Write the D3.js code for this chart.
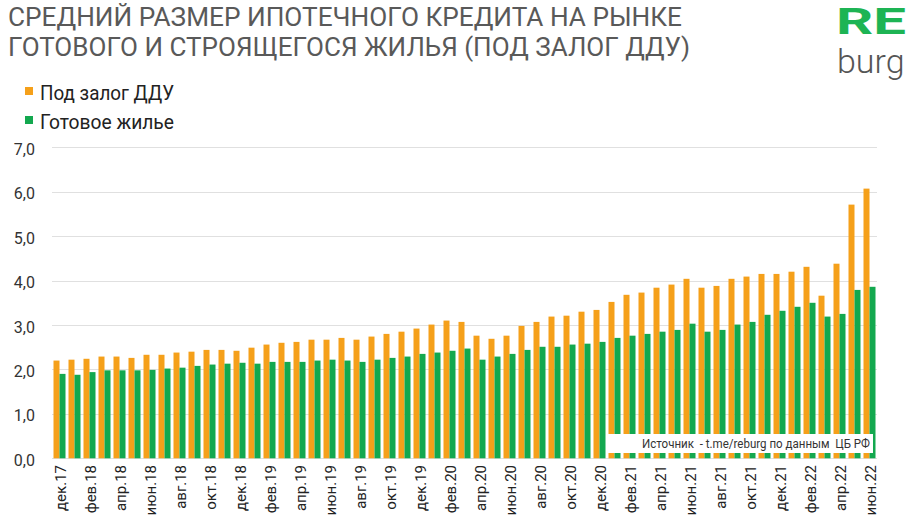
<!DOCTYPE html>
<html>
<head>
<meta charset="utf-8">
<script src="https://cdn.jsdelivr.net/npm/d3@7"></script>
<style>
  body { margin: 0; background: #fff; }
  svg { display: block; font-family: Roboto, "Noto Sans", sans-serif; }
</style>
</head>
<body>
<div id="chart"></div>
<script>
// months, dec 2017 .. jun 2022
const months = [
  "дек.17", "янв.18", "фев.18", "мар.18", "апр.18", "май.18", "июн.18", "июл.18", "авг.18", "сен.18", "окт.18", "ноя.18",
  "дек.18", "янв.19", "фев.19", "мар.19", "апр.19", "май.19", "июн.19", "июл.19", "авг.19", "сен.19", "окт.19", "ноя.19",
  "дек.19", "янв.20", "фев.20", "мар.20", "апр.20", "май.20", "июн.20", "июл.20", "авг.20", "сен.20", "окт.20", "ноя.20",
  "дек.20", "янв.21", "фев.21", "мар.21", "апр.21", "май.21", "июн.21", "июл.21", "авг.21", "сен.21", "окт.21", "ноя.21",
  "дек.21", "янв.22", "фев.22", "мар.22", "апр.22", "май.22", "июн.22"
];

// Под залог ДДУ, млн руб.
const dduValues = [
  2.20, 2.22, 2.24, 2.29, 2.29, 2.26, 2.33, 2.33, 2.38, 2.40, 2.44, 2.44,
  2.42, 2.49, 2.56, 2.60, 2.62, 2.67, 2.67, 2.71, 2.67, 2.74, 2.80, 2.85,
  2.92, 3.01, 3.10, 3.07, 2.76, 2.69, 2.76, 2.98, 3.07, 3.19, 3.21, 3.30,
  3.34, 3.52, 3.68, 3.73, 3.84, 3.91, 4.04, 3.84, 3.88, 4.04, 4.09, 4.15,
  4.15, 4.20, 4.31, 3.66, 4.38, 5.71, 6.07
];

// Готовое жилье
const readyValues = [
  1.90, 1.88, 1.94, 1.98, 1.98, 1.98, 1.99, 2.02, 2.04, 2.08, 2.11, 2.13,
  2.15, 2.13, 2.17, 2.17, 2.17, 2.20, 2.22, 2.20, 2.17, 2.22, 2.26, 2.29,
  2.35, 2.38, 2.42, 2.47, 2.22, 2.29, 2.35, 2.44, 2.51, 2.51, 2.56, 2.58,
  2.62, 2.71, 2.76, 2.80, 2.85, 2.89, 3.03, 2.85, 2.89, 3.01, 3.07, 3.23,
  3.32, 3.41, 3.50, 3.19, 3.25, 3.79, 3.86
];

const seriesNames = ["Под залог ДДУ", "Готовое жилье"];
const yTicks = [0, 1, 2, 3, 4, 5, 6, 7];

const width = 917;
const height = 516;
const orange = "#f5a01a";
const green = "#13a84f";

const rows = months.map((m, i) => ({ month: m, ddu: dduValues[i], ready: readyValues[i] }));

const svg = d3.select("#chart").append("svg")
    .attr("width", width)
    .attr("height", height);

const x = d3.scaleBand()
    .domain(months)
    .range([52, 877])
    .paddingInner(0.2)
    .paddingOuter(0.1);

const xSub = d3.scaleBand()
    .domain(["ddu", "ready"])
    .range([0, x.bandwidth()]);

const y = d3.scaleLinear()
    .domain([0, 7])
    .range([458.3, 147.3]);

const ru = d3.formatLocale({ decimal: ",", thousands: " ", grouping: [3], currency: ["", ""] });
const fmt = ru.format(".1f");

// gridlines
svg.append("g")
  .selectAll("line")
  .data(yTicks)
  .join("line")
    .attr("x1", 52)
    .attr("x2", 877)
    .attr("y1", d => Math.round(y(d)) + 0.5)
    .attr("y2", d => Math.round(y(d)) + 0.5)
    .attr("stroke", "#e0e0e0")
    .attr("stroke-width", 1);

// y labels
svg.append("g")
  .selectAll("text")
  .data(yTicks)
  .join("text")
    .attr("x", 35)
    .attr("y", d => y(d) + 2)
    .attr("dy", "0.35em")
    .attr("text-anchor", "end")
    .attr("font-size", 16)
    .attr("fill", "#333")
    .text(d => fmt(d));

// bars
const groups = svg.append("g")
  .selectAll("g")
  .data(rows)
  .join("g")
    .attr("transform", d => `translate(${x(d.month)},0)`);

groups.append("rect")
    .attr("x", xSub("ddu"))
    .attr("width", xSub.bandwidth())
    .attr("y", d => y(d.ddu))
    .attr("height", d => y(0) - y(d.ddu))
    .attr("fill", orange);

groups.append("rect")
    .attr("x", xSub("ready"))
    .attr("width", xSub.bandwidth())
    .attr("y", d => y(d.ready))
    .attr("height", d => y(0) - y(d.ready))
    .attr("fill", green);

// x labels, every second month
svg.append("g")
  .selectAll("text")
  .data(months.filter((m, i) => i % 2 === 0))
  .join("text")
    .attr("transform", d => `translate(${x(d) + x.bandwidth() / 2 + 1},465) rotate(-90)`)
    .attr("dy", "0.35em")
    .attr("text-anchor", "end")
    .attr("font-size", 15)
    .attr("fill", "#222")
    .text(d => d);

// source box
svg.append("rect")
    .attr("x", 608)
    .attr("y", 434)
    .attr("width", 265)
    .attr("height", 19)
    .attr("fill", "#fff");

svg.append("text")
    .attr("x", 870)
    .attr("y", 448)
    .attr("text-anchor", "end")
    .attr("font-size", 12)
    .attr("fill", "#333")
    .attr("textLength", 228)
    .attr("lengthAdjust", "spacingAndGlyphs")
    .style("white-space", "pre")
    .text("Источник  - t.me/reburg по данным  ЦБ РФ");

// title
const titleLines = ["СРЕДНИЙ РАЗМЕР ИПОТЕЧНОГО КРЕДИТА НА РЫНКЕ", "ГОТОВОГО И СТРОЯЩЕГОСЯ ЖИЛЬЯ (ПОД ЗАЛОГ ДДУ)"];
const titleWidths = [674, 682];
svg.append("g")
  .selectAll("text")
  .data(titleLines)
  .join("text")
    .attr("x", 8)
    .attr("y", (d, i) => 26 + i * 29.5)
    .attr("font-size", 25)
    .attr("fill", "#595959")
    .attr("textLength", (d, i) => titleWidths[i])
    .attr("lengthAdjust", "spacingAndGlyphs")
    .text(d => d);

// legend
const legend = svg.append("g")
  .selectAll("g")
  .data(seriesNames)
  .join("g")
    .attr("transform", (d, i) => `translate(25,${87 + i * 29})`);

legend.append("rect")
    .attr("width", 8)
    .attr("height", 8)
    .attr("fill", (d, i) => i === 0 ? orange : green);

legend.append("text")
    .attr("x", 15)
    .attr("y", 13)
    .attr("font-size", 21)
    .attr("fill", "#222")
    .attr("textLength", 134)
    .attr("lengthAdjust", "spacingAndGlyphs")
    .text(d => d);

// logo
svg.append("text")
    .attr("x", 836)
    .attr("y", 34)
    .attr("font-size", 37)
    .attr("font-weight", "bold")
    .attr("fill", "#1db454")
    .attr("textLength", 70)
    .attr("lengthAdjust", "spacingAndGlyphs")
    .text("RE");

svg.append("text")
    .attr("x", 837)
    .attr("y", 73)
    .attr("font-size", 34)
    .attr("font-weight", 300)
    .attr("fill", "#555")
    .text("burg");
</script>
</body>
</html>
